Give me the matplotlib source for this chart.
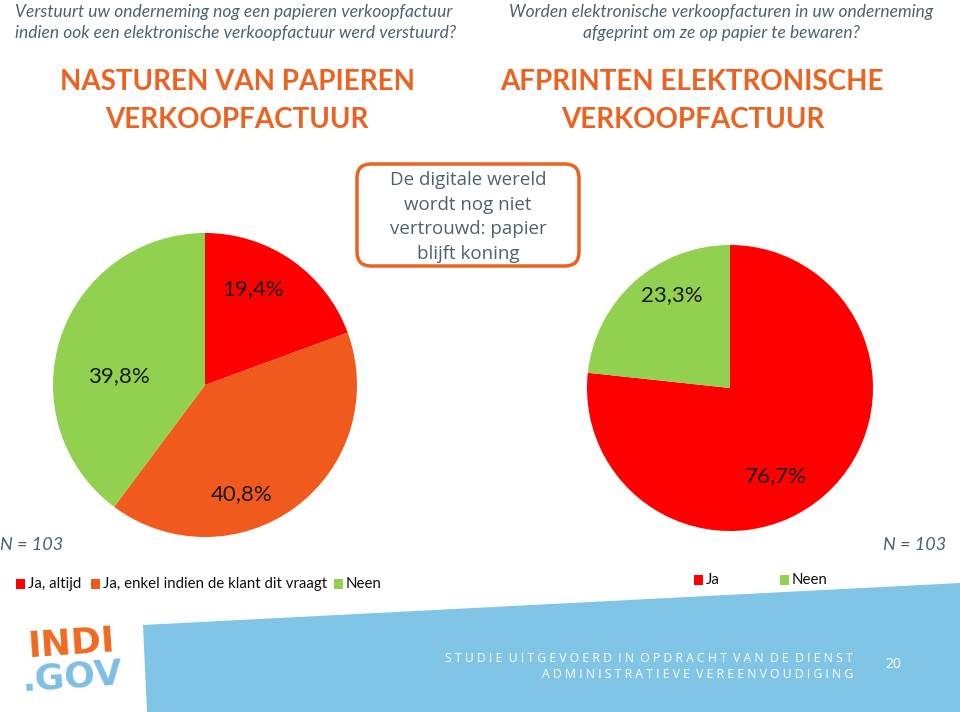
import matplotlib
matplotlib.use("Agg")
from matplotlib import pyplot as plt
from matplotlib.patches import FancyBboxPatch, Polygon

# data
left_labels = ['Ja, altijd', 'Ja, enkel indien de klant dit vraagt', 'Neen']
left_values = [19.4, 40.8, 39.8]
right_labels = ['Ja', 'Neen']
right_values = [76.7, 23.3]
n_left = 103
n_right = 103

RED = '#ff0000'
ORANGE = '#f05a1c'
GREEN = '#92d050'
TITLE = '#ec6220'
GREYBLUE = '#4f6170'
BLUE = '#80c4e6'

left_colors = [RED, ORANGE, GREEN]
right_colors = [RED, GREEN]

W, H = 960, 712
fig = plt.figure(figsize=(W / 100, H / 100), dpi=100)

# overlay in pixel coords (kept on top of the pies)
bg = fig.add_axes([0, 0, 1, 1])
bg.set_xlim(0, W)
bg.set_ylim(H, 0)
bg.axis('off')
bg.set_zorder(5)

def pie_axes(cx, cy, r):
	return fig.add_axes([(cx - r) / W, (H - cy - r) / H, 2 * r / W, 2 * r / H])

def pct(v):
	return ('%.1f%%' % v).replace('.', ',')

# left pie
axl = pie_axes(205, 385, 152)
axl.pie(left_values, colors=left_colors, startangle=90, counterclock=False, radius=1)
axl.set_xlim(-1, 1)
axl.set_ylim(-1, 1)
axl.axis('off')

# right pie
axr = pie_axes(730, 388, 143)
axr.pie(right_values, colors=right_colors, startangle=90, counterclock=False, radius=1)
axr.set_xlim(-1, 1)
axr.set_ylim(-1, 1)
axr.axis('off')

lbl = dict(fontsize=16, color='#1a1a1a', ha='center', va='center', family='Lato')
for (x, y), v in zip([(253, 289), (242, 494), (119, 376)], left_values):
	bg.text(x, y, pct(v), **lbl)
for (x, y), v in zip([(776, 476), (672, 295)], right_values):
	bg.text(x, y, pct(v), **lbl)

# questions
q = dict(fontsize=12.5, color=GREYBLUE, style='italic', family='Lato', va='center')
bg.text(15, 12, 'Verstuurt uw onderneming nog een papieren verkoopfactuur', ha='left', **q)
bg.text(15, 33, 'indien ook een elektronische verkoopfactuur werd verstuurd?', ha='left', **q)
bg.text(721, 12, 'Worden elektronische verkoopfacturen in uw onderneming', ha='center', **q)
bg.text(721, 33, 'afgeprint om ze op papier te bewaren?', ha='center', **q)

# titles
t = dict(fontsize=20, color=TITLE, weight='bold', family='Lato', ha='center', va='center')
bg.text(237, 82, 'NASTUREN VAN PAPIEREN', **t)
bg.text(237, 120, 'VERKOOPFACTUUR', **t)
bg.text(692, 82, 'AFPRINTEN ELEKTRONISCHE', **t)
bg.text(693, 120, 'VERKOOPFACTUUR', **t)

# callout box
box = FancyBboxPatch((357, 164), 222, 102, boxstyle='round,pad=0,rounding_size=14',
	fc='white', ec=TITLE, lw=2.5, zorder=3)
bg.add_patch(box)
for yy, s in zip([180, 205, 229, 254], ['De digitale wereld', 'wordt nog niet', 'vertrouwd: papier', 'blijft koning']):
	bg.text(468, yy, s, fontsize=13.5, color=GREYBLUE, ha='center', va='center', family='Open Sans', zorder=4)

# N
nt = dict(fontsize=13, color=GREYBLUE, style='italic', family='Lato', va='center')
bg.text(0, 545, 'N = %d' % n_left, ha='left', **nt)
bg.text(946, 545, 'N = %d' % n_right, ha='right', **nt)

# legends
def legend_row(xs, y, labels, colors):
	for x, s, c in zip(xs, labels, colors):
		bg.add_patch(plt.Rectangle((x, y - 5), 9, 10, color=c, lw=0))
		bg.text(x + 12, y, s, fontsize=10.8, color='#111111', va='center', family='Lato')

legend_row([16, 91, 334], 584, left_labels, left_colors)
legend_row([694, 780], 580, right_labels, right_colors)

# footer
bg.add_patch(Polygon([(143, 625), (960, 583), (960, 712), (147, 712)], closed=True, fc=BLUE, ec='none'))
ft = dict(fontsize=8.8, color='white', ha='right', va='center', family='Open Sans')
bg.text(853, 658, '  '.join(' '.join(w) for w in 'STUDIE UITGEVOERD IN OPDRACHT VAN DE DIENST'.split()), **ft)
bg.text(853, 674, '  '.join(' '.join(w) for w in 'ADMINISTRATIEVE VEREENVOUDIGING'.split()), **ft)
bg.text(893, 665, '20', fontsize=10, color='white', ha='center', va='center', family='Open Sans')

# logo
bg.text(72, 644, 'INDI', fontsize=26, color='#ef6a22', weight='bold', family='Liberation Sans Narrow',
	ha='center', va='center', rotation=4)
bg.text(72, 677, '.GOV', fontsize=26, color='#7fbfe4', weight='bold', family='Liberation Sans Narrow',
	ha='center', va='center', rotation=4)

fig.savefig('out.png', dpi=100)
